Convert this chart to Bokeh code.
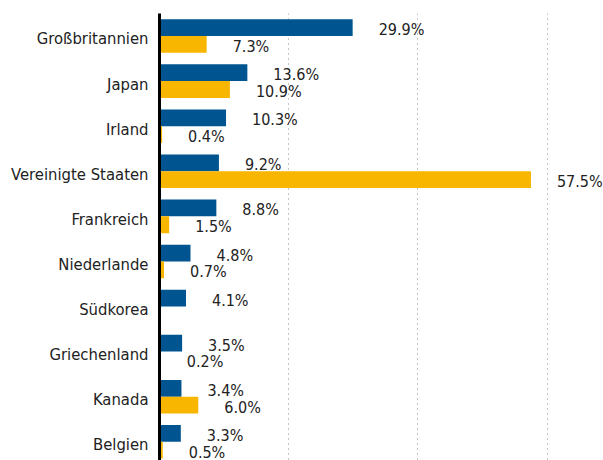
from bokeh.plotting import figure
from bokeh.models import ColumnDataSource, Range1d, FixedTicker
from bokeh.core.properties import value
from bokeh.embed import file_html
from bokeh.resources import INLINE

countries = ["Großbritannien", "Japan", "Irland", "Vereinigte Staaten", "Frankreich",
             "Niederlande", "Südkorea", "Griechenland", "Kanada", "Belgien"]
blue_vals = [29.9, 13.6, 10.3, 9.2, 8.8, 4.8, 4.1, 3.5, 3.4, 3.3]
yellow_vals = [7.3, 10.9, 0.4, 57.5, 1.5, 0.7, None, 0.2, 6.0, 0.5]
grid_ticks = [20, 40, 60]

BLUE = "#005591"
YELLOW = "#F8B600"
FONT = "DejaVu Sans Condensed"
TXT = "#222222"

idx = list(range(len(countries)))
bh = 0.372
off = 0.186

blue_src = ColumnDataSource(dict(
    y=[i - off for i in idx], v=blue_vals,
    lab=[f"{v:.1f}%" for v in blue_vals]))
yi = [i for i, v in zip(idx, yellow_vals) if v is not None]
yv = [v for v in yellow_vals if v is not None]
yellow_src = ColumnDataSource(dict(
    y=[i + off for i in yi], v=yv,
    lab=[f"{v:.1f}%" for v in yv]))

# frame: left at x 159, right at 603; top at 13, bottom at 460
p = figure(width=603, height=460, output_backend="svg", toolbar_location=None,
           x_range=Range1d(0, 444 / 6.46), y_range=Range1d(-0.5 + 447 / 45.08, -0.5),
           min_border_left=159, min_border_right=0, min_border_top=13,
           min_border_bottom=0)
p.outline_line_color = None
p.background_fill_color = "white"

p.hbar(y="y", right="v", left=0, height=bh, source=blue_src,
       fill_color=BLUE, line_color=None)
p.hbar(y="y", right="v", left=0, height=bh, source=yellow_src,
       fill_color=YELLOW, line_color=None)

for src in (blue_src, yellow_src):
    p.text(x="v", y="y", text="lab", source=src, x_offset=26, y_offset=2,
           text_font=value(FONT), text_font_size="16px", text_color=TXT,
           text_align="left", text_baseline="middle")

p.xaxis.visible = False
p.xgrid.ticker = FixedTicker(ticks=grid_ticks)
p.xgrid.grid_line_color = "#888888"
p.xgrid.grid_line_dash = "1 4"
p.xgrid.grid_line_width = 1
p.ygrid.visible = False

label_ticks = [i + 0.065 for i in idx]
ya = p.yaxis[0]
ya.ticker = FixedTicker(ticks=label_ticks)
ya.major_label_overrides = {t: c for t, c in zip(label_ticks, countries)}
ya.major_tick_line_color = None
ya.minor_tick_line_color = None
ya.major_tick_out = 0
ya.major_tick_in = 0
ya.major_label_standoff = 11
ya.axis_line_color = "black"
ya.axis_line_width = 3
ya.major_label_text_font = FONT
ya.major_label_text_font_size = "16.5px"
ya.major_label_text_color = TXT

open("out.html", "w").write(file_html(p, INLINE))
